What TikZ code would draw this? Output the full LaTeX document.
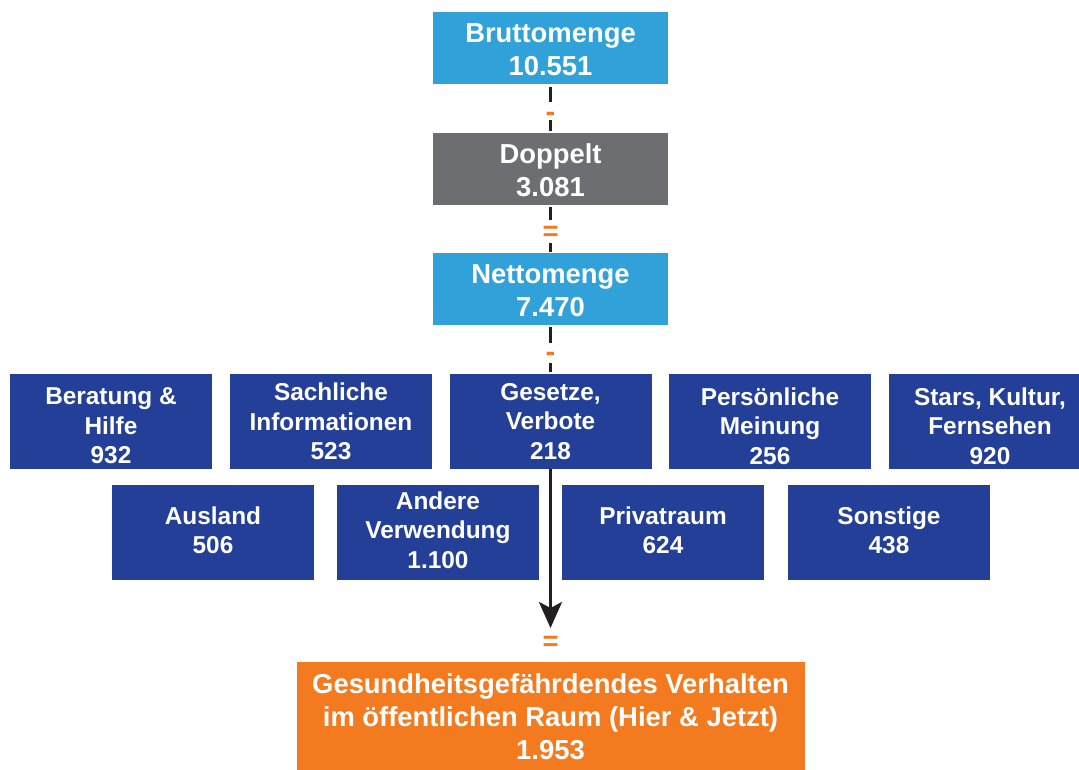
\documentclass[tikz,border=0pt]{standalone}
\usepackage{fontspec}
\setmainfont{Liberation Sans}
\usetikzlibrary{arrows.meta}
\definecolor{lblue}{HTML}{31A1DA}
\definecolor{dblue}{HTML}{233F98}
\definecolor{dgray}{HTML}{6D6E71}
\definecolor{orng}{HTML}{F47A20}
\definecolor{ink}{HTML}{231F20}
\begin{document}
\begin{tikzpicture}[x=1pt,y=-1pt,
  topbox/.style={inner sep=0pt, minimum width=235pt, minimum height=72pt},
  catbox/.style={fill=dblue, inner sep=0pt, minimum width=202pt, minimum height=95pt},
  bigtxt/.style={text=white, font=\fontsize{27.4}{33}\selectfont\bfseries, align=center, inner sep=0pt},
  smalltxt/.style={text=white, font=\fontsize{24.4}{29.5}\selectfont\bfseries, align=center, inner sep=0pt},
  minus/.style={text=orng, font=\fontsize{29}{33}\selectfont\bfseries, inner sep=0pt, text height=16.1pt, text depth=0pt},
  equals/.style={text=orng, font=\fontsize{27.4}{33}\selectfont\bfseries, inner sep=0pt, text height=17.6pt, text depth=0pt},
  seg/.style={draw=ink, line width=3.2pt},
]
\useasboundingbox (0,0) rectangle (1079,769);
% top boxes
\node[topbox, fill=lblue] (brutto) at (550.5,48) {};
\node[bigtxt] (bruttot) at (550.5,49.5) {Bruttomenge\\10.551};
\node[topbox, fill=dgray] (doppelt) at (550.5,169) {};
\node[bigtxt] (doppeltt) at (550.5,170.5) {Doppelt\\3.081};
\node[topbox, fill=lblue] (netto) at (550.5,289) {};
\node[bigtxt] (nettot) at (550.5,290.5) {Nettomenge\\7.470};
% row 1
\node[catbox] (c1) at (111,421.5) {};
\node[smalltxt] (c1t) at (111,426) {Beratung \&\\Hilfe\\932};
\node[catbox] (c2) at (331,421.5) {};
\node[smalltxt] (c2t) at (331,421.5) {Sachliche\\Informationen\\523};
\node[catbox] (c3) at (550.5,421.5) {};
\node[smalltxt] (c3t) at (550.5,421.5) {Gesetze,\\Verbote\\218};
\node[catbox] (c4) at (770,421.5) {};
\node[smalltxt] (c4t) at (770,426) {Persönliche\\Meinung\\256};
\node[catbox, minimum width=190pt] (c5) at (984,421.5) {};
\node[smalltxt] (c5t) at (990,426) {Stars, Kultur,\\Fernsehen\\920};
% row 2
\node[catbox] (d1) at (213,532.5) {};
\node[smalltxt] (d1t) at (213,530.5) {Ausland\\506};
\node[catbox] (d2) at (438,532.5) {};
\node[smalltxt] (d2t) at (438,530) {Andere\\Verwendung\\1.100};
\node[catbox] (d3) at (663,532.5) {};
\node[smalltxt] (d3t) at (663,530.5) {Privatraum\\624};
\node[catbox] (d4) at (889,532.5) {};
\node[smalltxt] (d4t) at (889,530.5) {Sonstige\\438};
% result
\node[fill=orng, inner sep=0pt, minimum width=508pt, minimum height=108pt] (res) at (550.5,716) {};
\node[bigtxt] (rest) at (550.5,717) {Gesundheitsgefährdendes Verhalten\\im öffentlichen Raum (Hier \& Jetzt)\\1.953};
% signs
\node[minus] (m1) at (550.5,113) {-};
\node[equals] (m2) at (550.5,232) {=};
\node[minus] (m3) at (550.5,353) {-};
\node[equals] (m4) at (550.5,642) {=};
% connectors
\draw[seg] ([yshift=-3pt]brutto.south) -- ([yshift=11pt]m1.center);
\draw[seg] ([yshift=-7pt]m1.center) -- ([yshift=2pt]doppelt.north);
\draw[seg] ([yshift=-2pt]doppelt.south) -- ([yshift=12pt]m2.center);
\draw[seg] ([yshift=-11pt]m2.center) -- ([yshift=1pt]netto.north);
\draw[seg] ([yshift=-2pt]netto.south) -- ([yshift=10pt]m3.center);
\draw[seg] ([yshift=-10pt]m3.center) -- ([yshift=2pt]c3.north);
\draw[seg, -{Stealth[length=26pt, width=23pt, inset=6pt]}] (c3.south) -- ([yshift=14pt]m4.center);
\end{tikzpicture}
\end{document}
